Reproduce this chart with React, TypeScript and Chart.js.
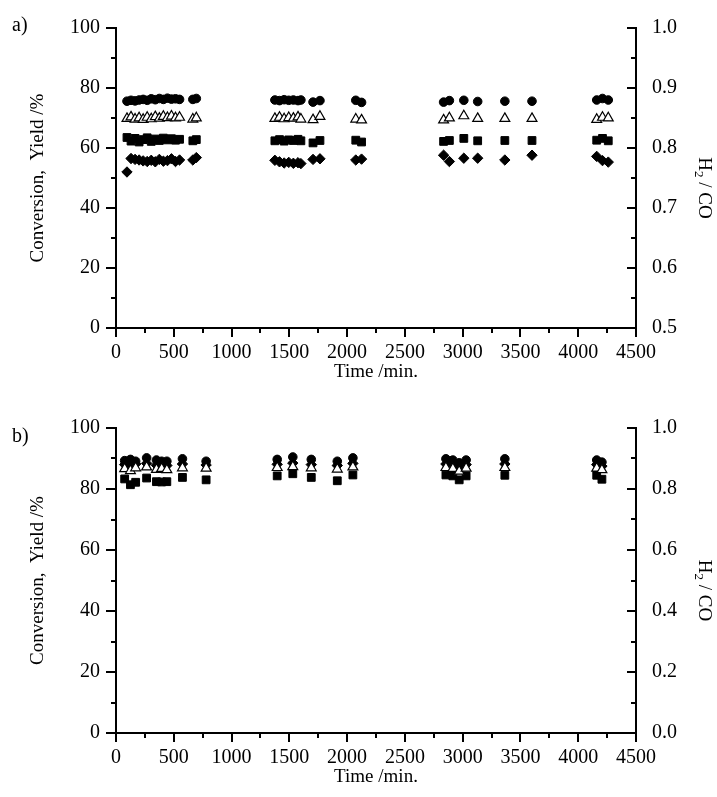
import React, { useEffect, useRef } from "react";
import { Chart, registerables } from "chart.js";

Chart.register(...registerables);

const FONT = "'Liberation Serif', 'Times New Roman', serif";

// ---------- Panel a) ----------
const timeA = [95, 130, 165, 200, 235, 270, 305, 340, 375, 410, 445, 480, 515, 550, 665, 695,
  1375, 1415, 1455, 1495, 1535, 1575, 1600, 1705, 1765, 2075, 2125,
  2835, 2885, 3010, 3130, 3365, 3600, 4160, 4210, 4260];
const circleA = [75.6, 75.9, 75.7, 76.0, 76.2, 75.9, 76.4, 76.1, 76.5, 76.2, 76.6, 76.3, 76.4, 76.2, 76.2, 76.5,
  76.0, 75.8, 76.1, 75.9, 76.0, 75.8, 76.0, 75.3, 75.8, 75.9, 75.2,
  75.3, 75.8, 75.9, 75.5, 75.6, 75.6, 76.0, 76.5, 76.0];
const triangleA = [69.8, 70.3, 69.6, 70.0, 69.5, 70.2, 69.7, 70.4, 69.9, 70.5, 70.1, 70.6, 70.0, 70.2, 69.6, 70.0,
  69.8, 70.2, 69.7, 70.1, 69.9, 70.3, 69.6, 69.4, 70.5, 69.6, 69.3,
  69.3, 70.0, 70.7, 69.8, 69.8, 69.8, 69.5, 70.2, 70.0];
const squareA = [63.5, 62.3, 63.2, 62.0, 62.8, 63.4, 62.2, 63.0, 62.5, 63.3, 62.7, 63.1, 62.6, 62.9, 62.4, 62.8,
  62.4, 62.8, 62.3, 62.7, 62.5, 62.9, 62.4, 61.7, 62.5, 62.6, 62.0,
  62.2, 62.5, 63.2, 62.4, 62.5, 62.5, 62.6, 63.2, 62.4];
const diamondA = [52.0, 56.5, 56.2, 56.0, 55.7, 55.5, 55.9, 55.4, 56.2, 55.6, 55.8, 56.4, 55.5, 56.0, 56.0, 56.8,
  55.9, 55.4, 55.0, 55.2, 54.9, 55.1, 54.8, 56.2, 56.4, 56.0, 56.3,
  57.6, 55.5, 56.6, 56.6, 56.0, 57.6, 57.2, 55.8, 55.3];

// ---------- Panel b) ----------
const timeB = [75, 125, 170, 265, 350, 395, 440, 575, 780, 1395, 1530, 1690, 1915, 2050,
  2855, 2915, 2970, 3030, 3365, 4160, 4205];
const circleB = [89.3, 89.7, 89.1, 90.2, 89.5, 89.1, 89.1, 89.9, 89.1, 89.7, 90.5, 89.7, 89.1, 90.2,
  89.9, 89.5, 88.6, 89.5, 89.9, 89.5, 88.8];
const diamondB = [88.0, 87.6, 88.2, 88.4, 87.8, 88.0, 87.7, 88.2, 87.9, 88.1, 88.5, 88.0, 87.7, 88.4,
  88.2, 87.9, 87.2, 88.0, 88.2, 88.0, 87.5];
const triangleB = [86.6, 86.0, 86.9, 87.2, 86.4, 86.7, 86.3, 86.9, 86.8, 87.0, 87.3, 86.9, 86.5, 87.2,
  87.0, 86.7, 85.8, 86.8, 87.0, 86.8, 86.3];
const squareB = [83.3, 81.4, 82.2, 83.6, 82.4, 82.3, 82.4, 83.8, 83.0, 84.3, 85.0, 83.8, 82.7, 84.6,
  84.6, 84.3, 83.0, 84.3, 84.5, 84.5, 83.2];

const xTickValues = [0, 500, 1000, 1500, 2000, 2500, 3000, 3500, 4000, 4500];

type PanelCfg = {
  label: string;
  times: number[];
  circle: number[];
  triangle: number[];
  square: number[];
  diamond: number[];
  padTop: number;
  xHeight: number;
  xLabelPad: number;
  xTitlePad: number;
  y2Min: number;
  y2Max: number;
  y2Step: number;
  y2Minor: number;
  labelY: number;
};

const ticksPlugin = {
  id: "axisTicks",
  afterDraw(chart: any, _args: any, opts: any) {
    const ctx = chart.ctx;
    const { x, y, y2 } = chart.scales;
    const area = chart.chartArea;
    ctx.save();
    ctx.strokeStyle = "#000";
    ctx.lineWidth = 2;
    ctx.beginPath();
    // left axis: outward
    for (let v = 0; v <= 100; v += 10) {
      const p = Math.round(y.getPixelForValue(v));
      const len = v % 20 === 0 ? 10 : 5;
      ctx.moveTo(area.left - len, p);
      ctx.lineTo(area.left, p);
    }
    // right axis: inward
    const n = Math.round((opts.y2Max - opts.y2Min) / opts.y2Minor);
    const majorEvery = Math.round(opts.y2Step / opts.y2Minor);
    for (let i = 0; i <= n; i++) {
      const v = opts.y2Min + i * opts.y2Minor;
      const p = Math.round(y2.getPixelForValue(v));
      const len = i % majorEvery === 0 ? 9 : 5;
      ctx.moveTo(area.right - len, p);
      ctx.lineTo(area.right, p);
    }
    // bottom axis: outward
    for (let v = 0; v <= 4500; v += 250) {
      const p = Math.round(x.getPixelForValue(v));
      const len = v % 500 === 0 ? 9 : 5;
      ctx.moveTo(p, area.bottom);
      ctx.lineTo(p, area.bottom + len);
    }
    ctx.stroke();

    // panel label
    ctx.fillStyle = "#000";
    ctx.font = `20px ${FONT}`;
    ctx.textAlign = "left";
    ctx.textBaseline = "middle";
    ctx.fillText(opts.label, 12, opts.labelY);

    // right axis title with subscript
    const cx = 704;
    const cy = (area.top + area.bottom) / 2 + 10;
    ctx.translate(cx, cy);
    ctx.rotate(Math.PI / 2);
    const big = `19px ${FONT}`;
    const small = `13px ${FONT}`;
    ctx.font = big;
    const wH = ctx.measureText("H").width;
    const wRest = ctx.measureText(" / CO").width;
    ctx.font = small;
    const w2 = ctx.measureText("2").width;
    const total = wH + w2 + wRest;
    let px = -total / 2;
    ctx.font = big;
    ctx.fillText("H", px, 0);
    px += wH;
    ctx.font = small;
    ctx.fillText("2", px, 6);
    px += w2;
    ctx.font = big;
    ctx.fillText(" / CO", px, 0);
    ctx.restore();
  },
};

function buildConfig(c: PanelCfg): any {
  const pts = (vals: number[]) => c.times.map((t, i) => ({ x: t, y: vals[i] }));
  return {
    type: "scatter",
    data: {
      datasets: [
        {
          label: "triangle",
          data: pts(c.triangle),
          pointStyle: "triangle",
          pointRadius: 5.7,
          backgroundColor: "#fff",
          borderColor: "#000",
          borderWidth: 1.2,
          yAxisID: "y",
        },
        {
          label: "circle",
          data: pts(c.circle),
          pointStyle: "circle",
          pointRadius: 4.3,
          backgroundColor: "#000",
          borderColor: "#000",
          borderWidth: 1,
          yAxisID: "y",
        },
        {
          label: "square",
          data: pts(c.square),
          pointStyle: "rect",
          pointRadius: 5.5,
          backgroundColor: "#000",
          borderColor: "#000",
          borderWidth: 1,
          yAxisID: "y",
        },
        {
          label: "diamond",
          data: pts(c.diamond),
          pointStyle: "rectRot",
          pointRadius: 5.2,
          backgroundColor: "#000",
          borderColor: "#000",
          borderWidth: 1,
          yAxisID: "y",
        },
      ],
    },
    options: {
      responsive: false,
      maintainAspectRatio: false,
      animation: false,
      devicePixelRatio: 1,
      layout: { padding: { top: c.padTop, left: 0, right: 0, bottom: 0 } },
      plugins: {
        legend: { display: false },
        tooltip: { enabled: false },
        axisTicks: {
          label: c.label,
          labelY: c.labelY,
          y2Min: c.y2Min,
          y2Max: c.y2Max,
          y2Step: c.y2Step,
          y2Minor: c.y2Minor,
        },
      },
      scales: {
        x: {
          type: "linear",
          position: "bottom",
          min: 0,
          max: 4500,
          afterFit: (s: any) => {
            s.height = c.xHeight;
          },
          afterBuildTicks: (s: any) => {
            s.ticks = xTickValues.map((v) => ({ value: v }));
          },
          grid: { display: false, drawTicks: false, tickLength: 0 },
          border: { display: true, color: "#000", width: 2 },
          ticks: {
            autoSkip: false,
            maxRotation: 0,
            padding: c.xLabelPad,
            color: "#000",
            font: { size: 20, family: FONT },
            callback: (v: any) => String(v),
          },
          title: {
            display: true,
            text: "Time /min.",
            color: "#000",
            font: { size: 19, family: FONT },
            padding: { top: 0, bottom: c.xTitlePad },
          },
        },
        y: {
          type: "linear",
          position: "left",
          min: 0,
          max: 100,
          afterFit: (s: any) => {
            s.width = 116;
          },
          grid: { display: false, drawTicks: false, tickLength: 0 },
          border: { display: true, color: "#000", width: 2 },
          ticks: {
            stepSize: 20,
            padding: 16,
            color: "#000",
            font: { size: 20, family: FONT },
          },
          title: {
            display: true,
            text: "Conversion,  Yield /%",
            color: "#000",
            font: { size: 19, family: FONT },
            padding: { top: 27, bottom: 0 },
          },
        },
        y2: {
          type: "linear",
          position: "right",
          min: c.y2Min,
          max: c.y2Max,
          afterFit: (s: any) => {
            s.width = 81;
          },
          grid: { display: false, drawTicks: false, tickLength: 0 },
          border: { display: true, color: "#000", width: 2 },
          ticks: {
            stepSize: c.y2Step,
            padding: 16,
            color: "#000",
            font: { size: 20, family: FONT },
            callback: (v: any) => Number(v).toFixed(1),
          },
        },
      },
    },
    plugins: [ticksPlugin],
  };
}

const panelA: PanelCfg = {
  label: "a)",
  times: timeA,
  circle: circleA,
  triangle: triangleA,
  square: squareA,
  diamond: diamondA,
  padTop: 20,
  xHeight: 72,
  xLabelPad: 13,
  xTitlePad: 16.6,
  y2Min: 0.5,
  y2Max: 1.0,
  y2Step: 0.1,
  y2Minor: 0.05,
  labelY: 26,
};

const panelB: PanelCfg = {
  label: "b)",
  times: timeB,
  circle: circleB,
  triangle: triangleB,
  square: squareB,
  diamond: diamondB,
  padTop: 25,
  xHeight: 64,
  xLabelPad: 13,
  xTitlePad: 8.6,
  y2Min: 0,
  y2Max: 1.0,
  y2Step: 0.2,
  y2Minor: 0.1,
  labelY: 37,
};

function Panel({ cfg, width, height, top }: { cfg: PanelCfg; width: number; height: number; top: number }) {
  const ref = useRef<HTMLCanvasElement | null>(null);
  useEffect(() => {
    if (!ref.current) return;
    const chart = new Chart(ref.current, buildConfig(cfg));
    return () => chart.destroy();
  }, [cfg]);
  return (
    <canvas
      ref={ref}
      width={width}
      height={height}
      style={{ position: "absolute", left: 0, top, width, height, display: "block" }}
    />
  );
}

export default function App() {
  return (
    <div style={{ position: "absolute", left: 0, top: 0, width: 717, height: 797, background: "#fff" }}>
      <Panel cfg={panelA} width={717} height={400} top={0} />
      <Panel cfg={panelB} width={717} height={397} top={400} />
    </div>
  );
}
